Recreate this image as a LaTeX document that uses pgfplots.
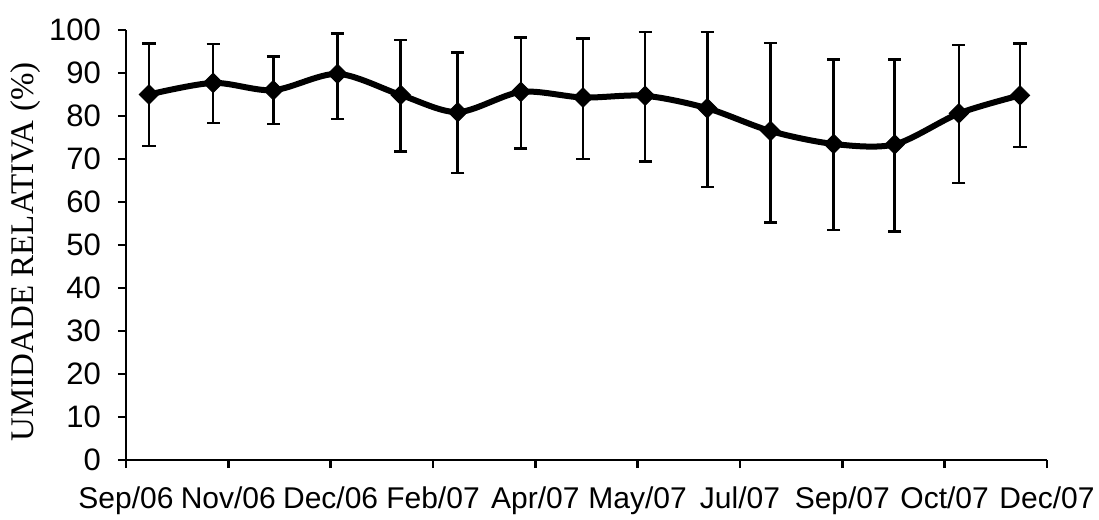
\documentclass[border=0pt]{standalone}
\usepackage{pgfplots}
\pgfplotsset{compat=1.18}
\usepackage{fontspec}
\setmainfont{Liberation Sans}
\newfontfamily\timesf{Liberation Serif}

\pgfplotstableread{
x      y     ep    em
0.225  85.0  11.9  12.0
0.852  87.7   9.0   9.3
1.440  86.0   7.8   7.9
2.067  89.8   9.4  10.5
2.684  84.9  12.8  13.1
3.242  80.9  13.9  14.2
3.859  85.6  12.7  13.1
4.466  84.3  13.7  14.3
5.073  84.7  14.8  15.3
5.680  81.8  17.7  18.3
6.298  76.5  20.5  21.3
6.915  73.5  19.7  20.0
7.512  73.4  19.8  20.3
8.139  80.6  15.9  16.2
8.736  84.8  12.0  12.0
}\umidade

\begin{document}
\begin{tikzpicture}
\useasboundingbox (-63pt,-30pt) rectangle (486.5pt,230pt);
\begin{axis}[
    scale only axis,
    width=460.5pt, height=215pt,
    xmin=0, xmax=9, ymin=0, ymax=100,
    axis lines*=left,
    axis line style={line width=1.4pt},
    tick style={line width=1.4pt, black},
    tick align=outside,
    major tick length=4pt,
    xtick={0,1,...,9},
    xticklabels={Sep/06,Nov/06,Dec/06,Feb/07,Apr/07,May/07,Jul/07,Sep/07,Oct/07,Dec/07},
    ytick={0,10,...,100},
    /pgf/number format/assume math mode=true,
    xticklabel style={font=\fontsize{15}{15}\selectfont, yshift=-6pt},
    yticklabel style={font=\fontsize{15.5}{16}\selectfont, xshift=-5pt},
    ylabel={UMIDADE RELATIVA (\%)},
    every axis y label/.style={at={(axis description cs:-0.1086,0.484)}, rotate=90, anchor=center,
        font=\timesf\fontsize{16.5}{17}\selectfont},
    clip=false,
]
\addplot[black, line width=3pt, smooth, tension=0.5,
    mark=square*, mark size=3.4pt, mark options={rotate=45, line width=0.5pt, solid},
    error bars/.cd, y dir=both, y explicit,
    error mark=|,
    error bar style={line width=1.3pt, black},
    error mark options={line width=1.3pt, mark size=3.3pt, black}]
    table[x=x, y=y, y error plus=ep, y error minus=em] {\umidade};
\end{axis}
\end{tikzpicture}
\end{document}
